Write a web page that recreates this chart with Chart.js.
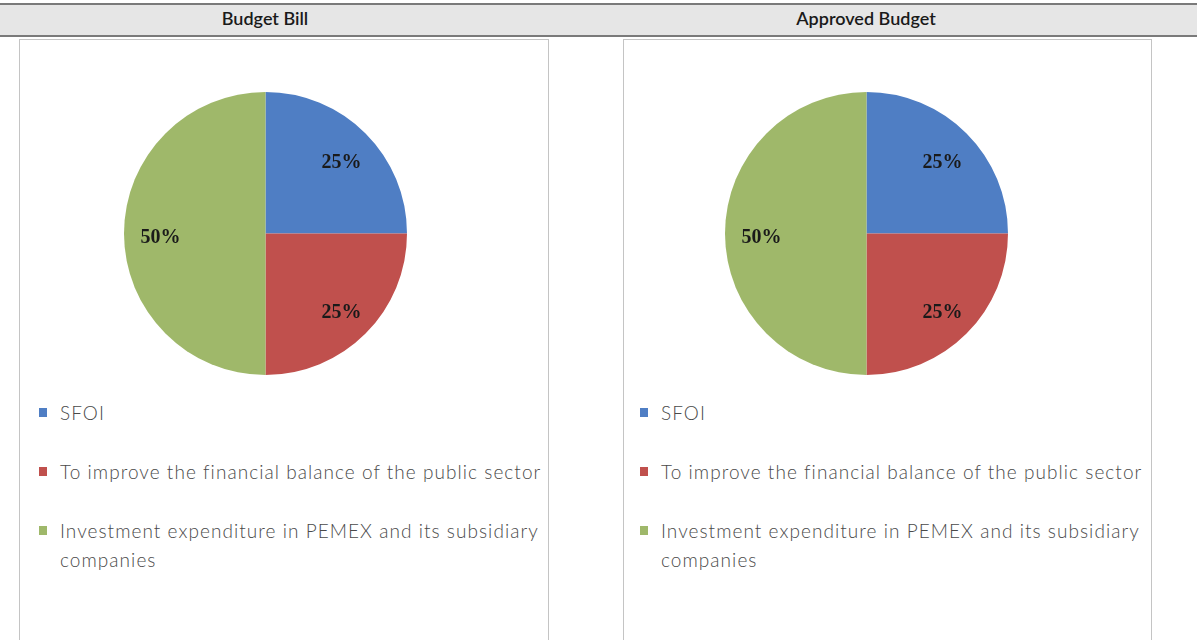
<!DOCTYPE html>
<html>
<head>
<meta charset="utf-8">
<script src="https://cdn.jsdelivr.net/npm/chart.js@4/dist/chart.umd.min.js"></script>
<style>
  html, body { margin: 0; padding: 0; background: #ffffff; }
  body { width: 1197px; height: 640px; position: relative; overflow: hidden; }
  .band { position: absolute; left: 0; top: 3px; width: 1197px; height: 30px;
          background: #e6e6e6; border-top: 2px solid #7a7a7a; border-bottom: 2px solid #7a7a7a; }
  .title { position: absolute; top: 7px; width: 300px; text-align: center;
           font-family: Lato, "Open Sans", sans-serif; font-size: 18px; color: #1a1a1a; font-weight: 600; }
  .panel { position: absolute; top: 39px; height: 640px; border: 1px solid #c4c4c4; background: #fff; }
  .pie { position: absolute; width: 283px; height: 283px; top: 92px; }
  .legend { position: absolute; font-family: Lato, "Open Sans", sans-serif; font-size: 19px;
            color: #4a4a4a; letter-spacing: 1.05px; font-weight: 300; }
  .item { position: relative; padding-left: 21px; line-height: 29px; margin-bottom: 30px; }
  .sw { position: absolute; left: 0; top: 10px; width: 8px; height: 9px; }
</style>
</head>
<body>
<div class="band"></div>
<div class="title" id="t0" style="left:115px;"></div>
<div class="title" id="t1" style="left:716px;"></div>
<div class="panel" style="left:19px; width:528px;"></div>
<div class="panel" style="left:623px; width:527px;"></div>
<div class="pie" style="left:124px;"><canvas id="c0"></canvas></div>
<div class="pie" style="left:725px;"><canvas id="c1"></canvas></div>
<div class="legend" id="l0" style="left:39px; top:398px; width:508px;"></div>
<div class="legend" id="l1" style="left:640px; top:398px; width:508px;"></div>
<script>
const panelTitles = ["Budget Bill", "Approved Budget"];
const categories = ["SFOI", "To improve the financial balance of the public sector", "Investment expenditure in PEMEX and its subsidiary companies"];
const budgetBillShares = [25, 25, 50];
const approvedBudgetShares = [25, 25, 50];
const sliceColors = ["#4f7ec4", "#c0504d", "#9fb86a"];

const pieLabels = {
  id: 'pieLabels',
  afterDatasetsDraw(chart) {
    const ctx = chart.ctx;
    const ds = chart.data.datasets[0];
    const total = ds.data.reduce((a, b) => a + b, 0);
    const meta = chart.getDatasetMeta(0);
    ctx.save();
    ctx.font = 'bold 20px "Liberation Serif", "DejaVu Serif", serif';
    ctx.fillStyle = '#1a1a1a';
    ctx.textAlign = 'center';
    ctx.textBaseline = 'middle';
    meta.data.forEach((arc, i) => {
      const p = arc.getProps(['x', 'y', 'startAngle', 'endAngle', 'outerRadius'], true);
      const mid = (p.startAngle + p.endAngle) / 2;
      const r = p.outerRadius * 0.75;
      const pct = Math.round(ds.data[i] / total * 100) + '%';
      ctx.fillText(pct, p.x + Math.cos(mid) * r + 1, p.y + Math.sin(mid) * r + 4);
    });
    ctx.restore();
  }
};

function makePie(canvasId, legendId, titleId, title, values) {
  document.getElementById(titleId).textContent = title;
  const chart = new Chart(document.getElementById(canvasId), {
    type: 'pie',
    data: {
      labels: categories,
      datasets: [{ data: values, backgroundColor: sliceColors, borderWidth: 0 }]
    },
    options: {
      responsive: true,
      maintainAspectRatio: false,
      animation: false,
      layout: { padding: 0 },
      plugins: { legend: { display: false }, tooltip: { enabled: false } }
    },
    plugins: [pieLabels]
  });
  const items = Chart.overrides.pie.plugins.legend.labels.generateLabels(chart);
  const box = document.getElementById(legendId);
  items.forEach(it => {
    const d = document.createElement('div');
    d.className = 'item';
    const s = document.createElement('span');
    s.className = 'sw';
    s.style.background = it.fillStyle;
    d.appendChild(s);
    d.appendChild(document.createTextNode(it.text));
    box.appendChild(d);
  });
}

makePie('c0', 'l0', 't0', panelTitles[0], budgetBillShares);
makePie('c1', 'l1', 't1', panelTitles[1], approvedBudgetShares);
</script>
</body>
</html>
